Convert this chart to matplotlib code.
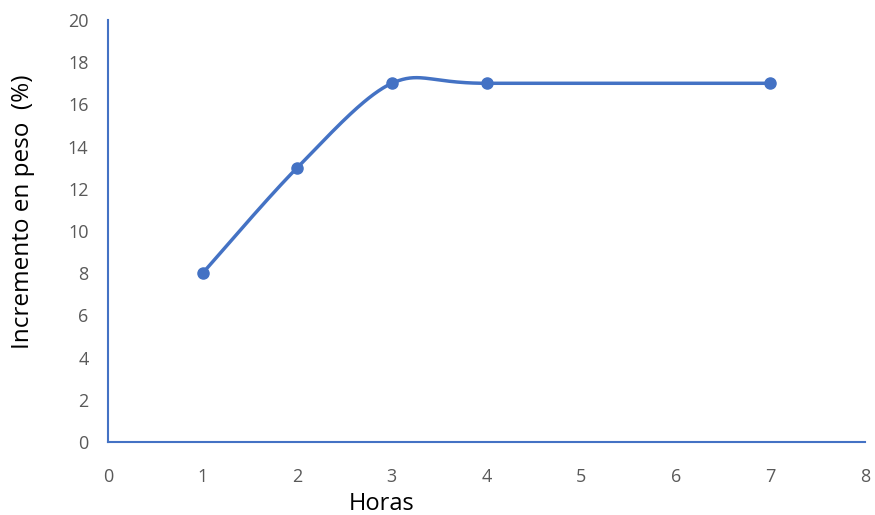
import numpy as np
import matplotlib
matplotlib.use("Agg")
import matplotlib.pyplot as plt

horas = [1, 2, 3, 4, 7]
incremento = [8, 13, 17, 17, 17]
x_ticks = [0, 1, 2, 3, 4, 5, 6, 7, 8]
y_ticks = [0, 2, 4, 6, 8, 10, 12, 14, 16, 18, 20]

plt.rcParams['font.family'] = ['Open Sans', 'DejaVu Sans']

def smooth(xs, ys, n=60, t=0.15):
    # Excel-style smoothed line: cubic Bezier segments with Catmull-Rom-like control points
    xs = np.asarray(xs, float); ys = np.asarray(ys, float)
    px = np.concatenate([[xs[0]], xs, [xs[-1]]])
    py = np.concatenate([[ys[0]], ys, [ys[-1]]])
    ox, oy = [], []
    for i in range(1, len(px) - 2):
        p0 = np.array([px[i], py[i]]); p1 = np.array([px[i+1], py[i+1]])
        c1 = p0 + (p1 - np.array([px[i-1], py[i-1]])) * t
        c2 = p1 - (np.array([px[i+2], py[i+2]]) - p0) * t
        s = np.linspace(0, 1, n)[:, None]
        b = (1-s)**3*p0 + 3*(1-s)**2*s*c1 + 3*(1-s)*s**2*c2 + s**3*p1
        ox.extend(b[:, 0]); oy.extend(b[:, 1])
    return ox, oy

fig = plt.figure(figsize=(8.75, 5.15), dpi=100)
ax = fig.add_axes([0.1234, 0.1417, 0.8652, 0.8195])
color = '#4472C4'
sx, sy = smooth(horas, incremento)
ax.plot(sx, sy, color=color, lw=2.5, solid_capstyle='round')
ax.plot(horas, incremento, 'o', color=color, ms=8)

ax.set_xlim(0, 8)
ax.set_ylim(0, 20)
ax.set_xticks(x_ticks)
ax.set_yticks(y_ticks)
ax.tick_params(length=0, labelsize=13, colors='#595959')
ax.tick_params(axis='y', pad=14)
ax.tick_params(axis='x', pad=19)
for s in ['top', 'right']:
    ax.spines[s].set_visible(False)
for s in ['left', 'bottom']:
    ax.spines[s].set_color(color)
    ax.spines[s].set_linewidth(1.5)
ax.set_xlabel('Horas', fontsize=17, color='black')
ax.set_ylabel('Incremento en peso  (%)', fontsize=17.5, color='black')
ax.xaxis.set_label_coords(0.362, -0.118)
ax.yaxis.set_label_coords(-0.097, 0.545)
fig.savefig('out.png', dpi=100)
